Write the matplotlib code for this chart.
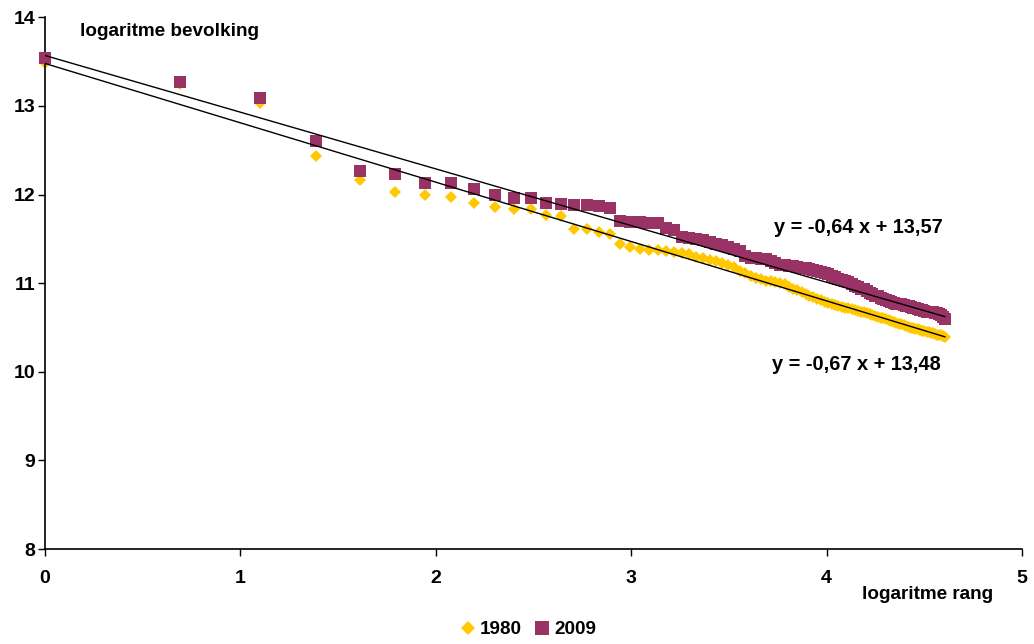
import numpy as np
import matplotlib
matplotlib.use("Agg")
import matplotlib.pyplot as plt
from matplotlib.lines import Line2D

# Log population of the 100 largest municipalities, ordered by rank
pop_1980 = [
    13.48, 13.25, 13.03, 12.44, 12.17, 12.03, 12.00, 11.97, 11.90, 11.86,
    11.84, 11.84, 11.77, 11.76, 11.61, 11.61, 11.58, 11.55, 11.44, 11.41,
    11.39, 11.38, 11.37, 11.36, 11.35, 11.34, 11.33, 11.30, 11.28, 11.26,
    11.25, 11.23, 11.21, 11.18, 11.14, 11.11, 11.08, 11.06, 11.05, 11.03,
    11.02, 11.01, 11.00, 10.99, 10.96, 10.94, 10.92, 10.90, 10.88, 10.86,
    10.84, 10.82, 10.81, 10.79, 10.78, 10.76, 10.75, 10.74, 10.73, 10.72,
    10.72, 10.71, 10.70, 10.69, 10.68, 10.67, 10.66, 10.65, 10.64, 10.63,
    10.62, 10.61, 10.61, 10.60, 10.58, 10.57, 10.56, 10.55, 10.54, 10.54,
    10.53, 10.52, 10.51, 10.50, 10.49, 10.48, 10.48, 10.47, 10.46, 10.46,
    10.45, 10.45, 10.44, 10.44, 10.43, 10.42, 10.42, 10.41, 10.40, 10.39,
]
pop_2009 = [
    13.54, 13.27, 13.09, 12.61, 12.27, 12.23, 12.13, 12.13, 12.06, 11.99,
    11.96, 11.96, 11.91, 11.89, 11.88, 11.88, 11.87, 11.85, 11.70, 11.69,
    11.69, 11.68, 11.68, 11.62, 11.60, 11.52, 11.51, 11.50, 11.49, 11.47,
    11.44, 11.43, 11.41, 11.39, 11.36, 11.31, 11.28, 11.28, 11.27, 11.27,
    11.25, 11.23, 11.21, 11.20, 11.19, 11.19, 11.18, 11.17, 11.17, 11.16,
    11.15, 11.14, 11.13, 11.11, 11.10, 11.08, 11.07, 11.05, 11.04, 11.02,
    11.01, 10.99, 10.97, 10.96, 10.94, 10.93, 10.91, 10.89, 10.88, 10.86,
    10.85, 10.83, 10.82, 10.81, 10.80, 10.79, 10.78, 10.77, 10.76, 10.76,
    10.75, 10.74, 10.74, 10.73, 10.72, 10.72, 10.71, 10.70, 10.70, 10.69,
    10.68, 10.68, 10.67, 10.67, 10.66, 10.66, 10.65, 10.64, 10.62, 10.60,
]

# Linear trend coefficients (slope, intercept)
trend_1980 = (-0.67, 13.48)
trend_2009 = (-0.64, 13.57)

x_ticks = [0, 1, 2, 3, 4, 5]
y_ticks = [8, 9, 10, 11, 12, 13, 14]

YELLOW = "#FFC800"
PURPLE = "#993366"

plt.rcParams["font.family"] = ["Liberation Sans", "DejaVu Sans"]

ranks = np.arange(1, len(pop_1980) + 1)
log_rank = np.log(ranks)

fig = plt.figure(figsize=(10.34, 6.44), dpi=100)
ax = fig.add_axes([0.0435, 0.1475, 0.945, 0.8255])

ax.plot(log_rank, pop_1980, linestyle="none", marker="D", markersize=6.2,
        color=YELLOW, markeredgewidth=0, zorder=2, clip_on=False)
ax.plot(log_rank, pop_2009, linestyle="none", marker="s", markersize=9.0,
        color=PURPLE, markeredgewidth=0, zorder=3, clip_on=False)

xl = np.array([0, log_rank[-1]])
for slope, icpt in (trend_1980, trend_2009):
    ax.plot(xl, slope * xl + icpt, color="black", linewidth=1.0, zorder=4)

ax.set_xlim(0, 5)
ax.set_ylim(8, 14)
ax.set_xticks(x_ticks)
ax.set_yticks(y_ticks)
ax.tick_params(direction="out", length=5, width=1.0, color="black",
               labelsize=14)
ax.tick_params(axis="x", pad=10)
ax.tick_params(axis="y", pad=2)
for lbl in ax.get_xticklabels() + ax.get_yticklabels():
    lbl.set_fontweight("bold")
for side in ("top", "right"):
    ax.spines[side].set_visible(False)
for side in ("left", "bottom"):
    ax.spines[side].set_linewidth(1.2)

def fmt(slope, icpt):
    s = f"y = {slope:.2f} x + {icpt:.2f}"
    return s.replace(".", ",")

ax.text(0.18, 13.84, "logaritme bevolking", fontsize=13.6, fontweight="bold",
        ha="left", va="center")
ax.text(4.18, 7.49, "logaritme rang", fontsize=13.6, fontweight="bold",
        ha="left", va="center")
ax.text(4.16, 11.63, fmt(*trend_2009), fontsize=14.4, fontweight="bold",
        ha="center", va="center")
ax.text(4.15, 10.08, fmt(*trend_1980), fontsize=14.4, fontweight="bold",
        ha="center", va="center")

handles = [
    Line2D([], [], linestyle="none", marker="D", markersize=7.5, color=YELLOW,
           markeredgewidth=0, label="1980"),
    Line2D([], [], linestyle="none", marker="s", markersize=10, color=PURPLE,
           markeredgewidth=0, label="2009"),
]
leg = fig.legend(handles=handles, loc="center", bbox_to_anchor=(0.510, 0.022),
                 ncol=2, frameon=False, handletextpad=0.15, columnspacing=0.55,
                 handlelength=1.0, prop={"size": 13.6, "weight": "bold"})

fig.savefig("out.png", dpi=100)
